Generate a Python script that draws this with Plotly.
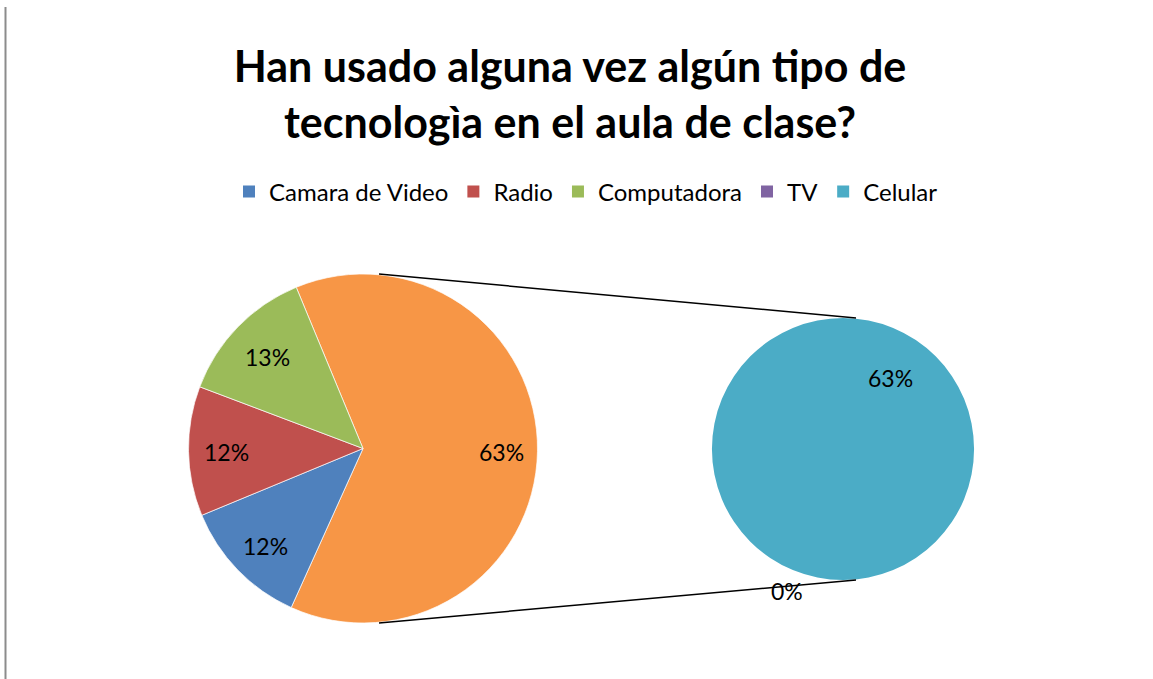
import plotly.graph_objects as go

# Data (percentages as labelled in the chart)
main_labels = ["Otro", "Camara de Video", "Radio", "Computadora"]
main_values = [63, 12, 12, 13]
main_colors = ["#F79646", "#4F81BD", "#C0504D", "#9BBB59"]

legend_labels = ["Camara de Video", "Radio", "Computadora", "TV", "Celular"]
legend_colors = ["#4F81BD", "#C0504D", "#9BBB59", "#8064A2", "#4BACC6"]
second_values = [0, 0, 0, 0, 63]   # secondary pie: TV = 0%, Celular = 63%

W, H = 1153, 679
FONT = "Lato"

def px_x(x):
    return x / W

def px_y(y):
    return 1 - y / H

fig = go.Figure()

fig.add_trace(go.Pie(
    labels=main_labels,
    values=main_values,
    marker=dict(colors=main_colors, line=dict(color="white", width=0.7)),
    sort=False,
    direction="clockwise",
    rotation=-22.5,
    textinfo="none",
    showlegend=False,
    domain=dict(x=[px_x(188), px_x(538)], y=[px_y(623), px_y(274)]),
    hoverinfo="label+percent",
))

fig.add_trace(go.Pie(
    labels=legend_labels,
    values=second_values,
    marker=dict(colors=legend_colors, line=dict(color="white", width=0)),
    sort=False,
    direction="clockwise",
    textinfo="none",
    showlegend=True,
    domain=dict(x=[px_x(712), px_x(974)], y=[px_y(580), px_y(318)]),
    hoverinfo="label+value",
))

# Data labels
lab_font = dict(family=FONT, size=23, color="black")
main_label_pos = {"Otro": (501, 452), "Camara de Video": (265, 546),
                  "Radio": (226, 452), "Computadora": (267, 357)}
annotations = []
for lab, val in zip(main_labels, main_values):
    x, y = main_label_pos[lab]
    annotations.append(dict(x=px_x(x), y=px_y(y), xref="paper", yref="paper",
                            xanchor="center", yanchor="middle",
                            text=f"{val}%", showarrow=False, font=lab_font))
sec_label_pos = {"TV": (787, 591), "Celular": (890, 378)}
for lab, val in zip(legend_labels, second_values):
    if lab in sec_label_pos:
        x, y = sec_label_pos[lab]
        annotations.append(dict(x=px_x(x), y=px_y(y), xref="paper", yref="paper",
                                xanchor="center", yanchor="middle",
                                text=f"{val}%", showarrow=False, font=lab_font))

shapes = [
    dict(type="line", xref="paper", yref="paper",
         x0=px_x(379), y0=px_y(274), x1=px_x(856), y1=px_y(318),
         line=dict(color="black", width=1.5)),
    dict(type="line", xref="paper", yref="paper",
         x0=px_x(379), y0=px_y(623), x1=px_x(856), y1=px_y(580),
         line=dict(color="black", width=1.5)),
    dict(type="line", xref="paper", yref="paper",
         x0=px_x(5.5), y0=px_y(7), x1=px_x(5.5), y1=px_y(679),
         line=dict(color="#8c8c8c", width=2)),
]

fig.update_layout(
    width=W, height=H,
    margin=dict(l=0, r=0, t=0, b=0),
    paper_bgcolor="white",
    plot_bgcolor="white",
    title=dict(
        text="Han usado alguna vez algún tipo de<br>tecnologìa en el aula de clase?",
        x=px_x(570), xanchor="center",
        y=px_y(82), yanchor="middle",
        font=dict(family=FONT, size=43, color="black", weight="bold"),
    ),
    legend=dict(
        orientation="h",
        x=px_x(586), xanchor="center",
        y=px_y(192), yanchor="middle",
        font=dict(family=FONT, size=24, color="black"),
        traceorder="normal",
    ),
    annotations=annotations,
    shapes=shapes,
)

fig.write_html("out.html", config={"displayModeBar": False},
               post_script="document.body.style.margin='0';document.body.style.padding='0';")
